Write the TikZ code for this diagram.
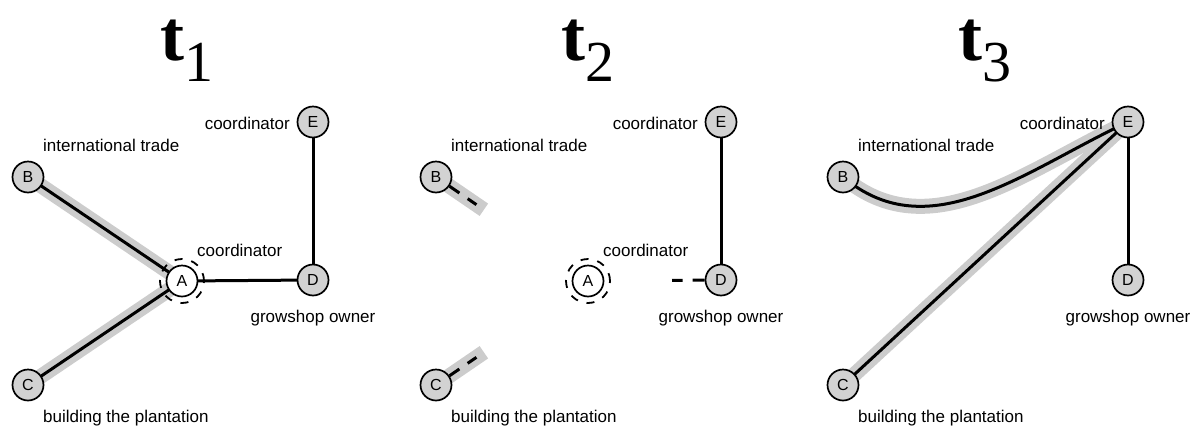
\documentclass[tikz,border=0pt]{standalone}
\usepackage{fontspec}
\setmainfont{Liberation Sans}
\newfontfamily\titlefont{Liberation Serif}
\usetikzlibrary{positioning,calc,backgrounds}

\tikzset{
  actor/.style={circle,draw,line width=1.7pt,fill=gray!35,minimum size=31pt,inner sep=0pt,font=\fontsize{16}{16}\selectfont},
  lbl/.style={inner sep=0pt,font=\fontsize{17}{17}\selectfont},
  tie/.style={line width=3pt},
  band/.style={line width=15pt,draw=gray!40},
  gap/.style={tie,dash pattern=on 12pt off 10pt},
  ring/.style={circle,draw,line width=1.8pt,dash pattern=on 8pt off 9pt,minimum size=44pt,inner sep=0pt}
}

\begin{document}
\begin{tikzpicture}[x=1pt,y=-1pt]
    \useasboundingbox (0,0) rectangle (1203,429);
    % the actors of every time step
    \foreach \p/\dx/\tx in {1/0/160,2/408/561,3/815/958}{
        \node [anchor=base west,inner sep=0pt] (t\p) at (\tx,60) {\titlefont\bfseries\fontsize{72}{72}\selectfont t\lower21pt\hbox{\mdseries\fontsize{58}{58}\selectfont\p}};
        \node [actor] (b\p) at (28+\dx,177) {B};
        \node [actor] (c\p) at (28+\dx,385) {C};
        \node [actor] (e\p) at (313+\dx,122) {E};
        \node [actor] (d\p) at (313+\dx,280) {D};
        \node [lbl,anchor=base west] (lb\p) at ([xshift=15pt,yshift=26pt]b\p.center) {international trade};
        \node [lbl,anchor=base west] (lc\p) at ([xshift=15pt,yshift=-37pt]c\p.center) {building the plantation};
        \node [lbl,anchor=base east] (le\p) at ([xshift=-23pt,yshift=-7pt]e\p.center) {coordinator};
        \node [lbl,anchor=base] (ld\p) at ([yshift=-42pt]d\p.center) {growshop owner};
    }
    \foreach \p/\dx in {1/0,2/406}{
        \node [actor,fill=white] (a\p) at (182+\dx,281) {A};
        \node [ring] (r\p) at (a\p) {};
        \node [lbl,anchor=base west] (la\p) at ([xshift=15pt,yshift=25pt]a\p.center) {coordinator};
    }
    % t2: broken ties
    \coordinate (bs2) at ($(b2)!58pt!(a2)$);
    \coordinate (bt2) at ($(b2)!49pt!(a2)$);
    \coordinate (cs2) at ($(c2)!58pt!(a2)$);
    \coordinate (ct2) at ($(c2)!49pt!(a2)$);
    \coordinate (dt2) at ($(d2)!49pt!(a2)$);
    \draw[gap] (b2) -- (bt2);
    \draw[gap] (c2) -- (ct2);
    \draw[gap] (d2) -- (dt2);
    \begin{pgfonlayer}{background}
        \draw[band] (b1.center) -- (a1.center);
        \draw[band] (c1.center) -- (a1.center);
        \draw[tie] (b1.center) -- (a1.center);
        \draw[tie] (c1.center) -- (a1.center);
        \draw[tie] (a1.center) -- (d1.center);
        \draw[tie] (d1.center) -- (e1.center);
        \draw[band] (b2.center) -- (bs2);
        \draw[band] (c2.center) -- (cs2);
        \draw[tie] (d2.center) -- (e2.center);
        \draw[band] (b3.center) to[out=-40,in=205] (e3.center);
        \draw[band] (c3.center) -- (e3.center);
        \draw[tie] (b3.center) to[out=-40,in=205] (e3.center);
        \draw[tie] (c3.center) -- (e3.center);
        \draw[tie] (e3.center) -- (d3.center);
    \end{pgfonlayer}
\end{tikzpicture}
\end{document}
